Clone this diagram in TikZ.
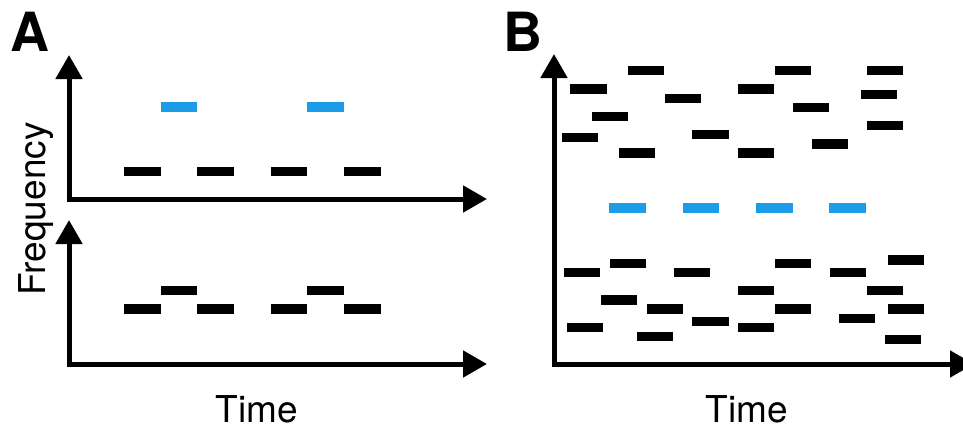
\documentclass[tikz,border=0pt]{standalone}
\usepackage{fontspec}
\setmainfont{TeX Gyre Heros}
\usetikzlibrary{arrows.meta}
\definecolor{barblue}{RGB}{28,155,230}
\tikzset{
  bar/.style={rectangle, inner sep=0pt, minimum width=36.5pt, minimum height=9.5pt, fill=black, draw=none},
  bluebar/.style={bar, fill=barblue},
  axis/.style={line width=5pt, -{Triangle[length=24pt,width=26pt]}},
  axislabel/.style={font=\fontsize{37}{40}\selectfont, inner sep=0pt},
  panellabel/.style={font=\fontsize{54}{58}\selectfont\bfseries, inner sep=0pt}
}
\begin{document}
\begin{tikzpicture}[x=1pt,y=-1pt]
\useasboundingbox (0,0) rectangle (963,428);
% panel labels
\node[panellabel, anchor=base west] (labA) at (10,52) {A};
\node[panellabel, anchor=base west] (labB) at (503,52) {B};
% axis labels
\node[axislabel, anchor=base] (timeA) at (257,422) {Time};
\node[axislabel, anchor=base] (timeB) at (747,422) {Time};
\node[axislabel, anchor=base, rotate=90] (freq) at (45,209) {Frequency};
% axes panel A top
\coordinate (oA1) at (69,199);
\coordinate (yA1) at (69,55);
\coordinate (xA1) at (487,199);
\draw[axis] ([yshift=2.5pt]oA1) -- (yA1);
\draw[axis] ([xshift=-2.5pt]oA1) -- (xA1);
% axes panel A bottom
\coordinate (oA2) at (69,364);
\coordinate (yA2) at (69,220);
\coordinate (xA2) at (487,364);
\draw[axis] ([yshift=2.5pt]oA2) -- (yA2);
\draw[axis] ([xshift=-2.5pt]oA2) -- (xA2);
% axes panel B
\coordinate (oB) at (554,364);
\coordinate (yB) at (554,54);
\coordinate (xB) at (974,364);
\draw[axis] ([yshift=2.5pt]oB) -- (yB);
\draw[axis] ([xshift=-2.5pt]oB) -- (xB);
% panel A top bars
\foreach \x [count=\i] in {142.5,215.5,289,362.5}
  \node[bar] (at\i) at (\x,171.5) {};
\foreach \x [count=\i] in {179,325.5}
  \node[bluebar] (atb\i) at (\x,107) {};
% panel A bottom bars
\foreach \x [count=\i] in {142.5,215.5,289,362.5}
  \node[bar] (abl\i) at (\x,309) {};
\foreach \x [count=\i] in {179,325.5}
  \node[bar] (abu\i) at (\x,290.5) {};
% panel B bars
\foreach \p [count=\i] in {
  {646,70.5},{793,70.5},{885,70.5},{588.5,89},{756,89},{683,98.5},{879,94.5},
  {811,107.5},{610,116.5},{885,125.5},{580,137.5},{710.5,134.5},{830,144},
  {637,153},{756,153},
  {582,272.5},{628,263.5},{692,272.5},{793,263.5},{848,272.5},{906,260},
  {756,290.5},{885,290.5},{619,300},{665,309},{793,309},{906,309},
  {710.5,321.5},{857,318.5},{585,327.5},{756,327.5},{655,336.5},{903,339.5}}
  \node[bar] (b\i) at (\p) {};
\foreach \x [count=\i] in {627.5,701,774.5,847.5}
  \node[bluebar] (bb\i) at (\x,208) {};
\end{tikzpicture}
\end{document}
